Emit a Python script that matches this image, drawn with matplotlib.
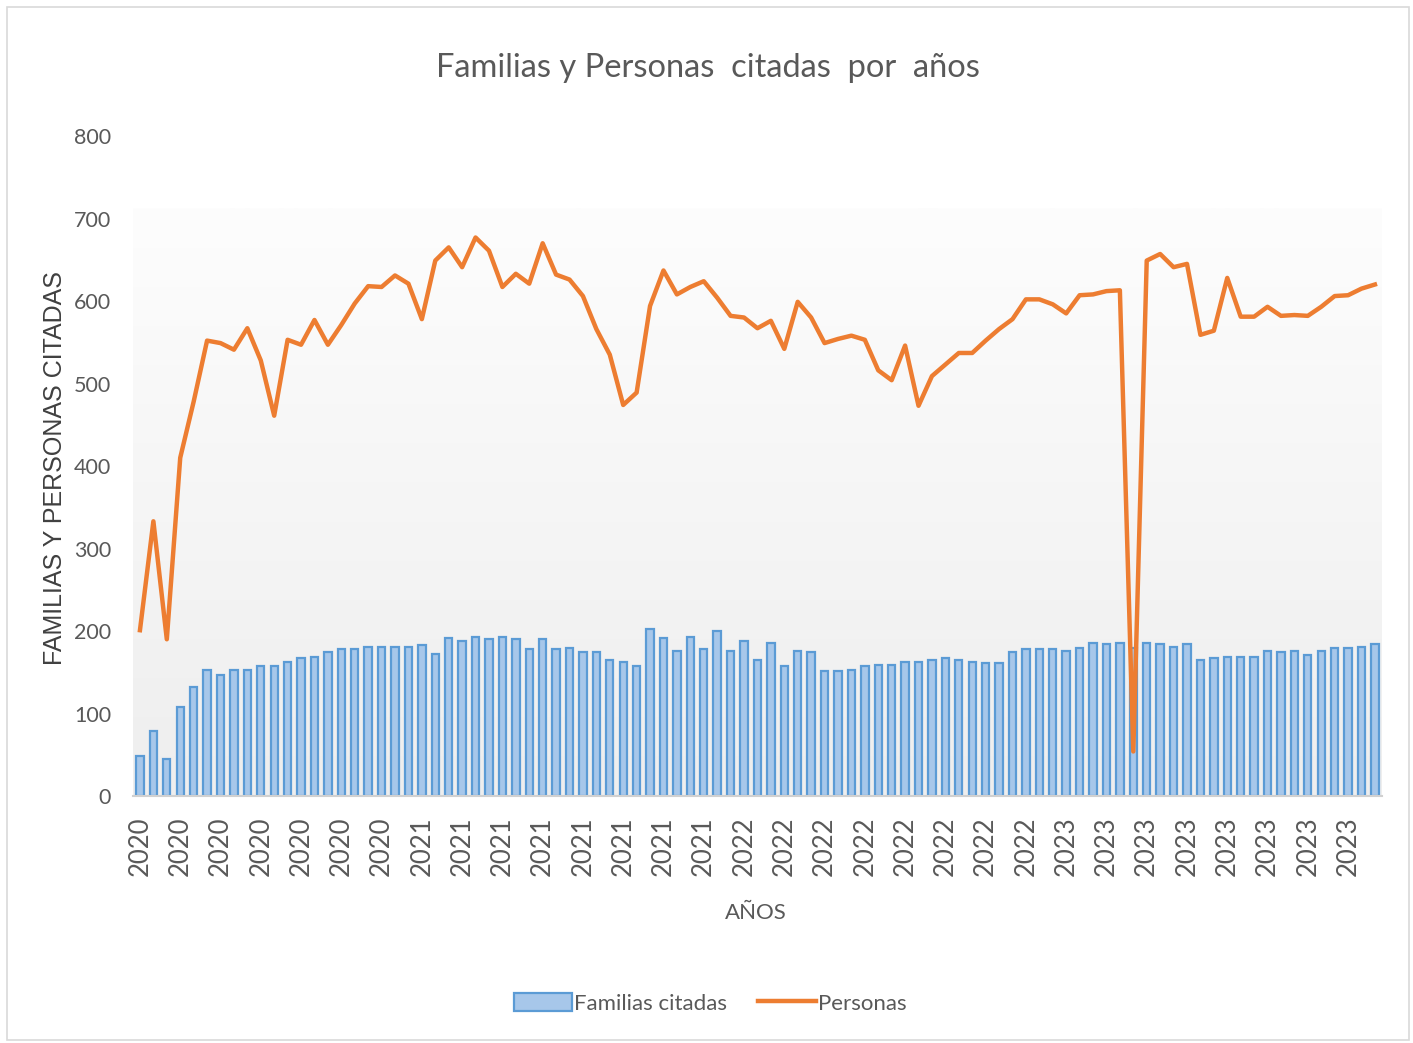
import matplotlib
matplotlib.use("Agg")
import matplotlib.pyplot as plt
import numpy as np
from matplotlib.colors import LinearSegmentedColormap
from matplotlib.patches import Rectangle

# ---- data ----
familias = [49, 79, 45, 108, 132, 153, 147, 153, 153, 157, 157, 163, 167, 169, 174, 178, 178, 181, 181, 181, 181, 183, 172, 192,
            188, 193, 190, 193, 190, 178, 190, 178, 179, 174, 174, 165, 163, 157, 202, 192, 176, 193, 178, 200, 176, 188, 165,
            186, 157, 176, 174, 151, 151, 153, 157, 159, 159, 162, 163, 165, 167, 165, 163, 161, 161, 174, 178, 178, 178, 176, 180,
            186, 184, 186, 180, 186, 184, 181, 184, 165, 167, 169, 169, 169, 176, 174, 176, 171, 176, 180, 180, 181, 184]
personas = [201, 333, 190, 410, 478, 552, 549, 541, 567, 528, 461, 553, 547, 577, 547, 571, 597, 618, 617, 631, 621, 578, 649, 665,
            641, 677, 661, 617, 633, 621, 670, 632, 626, 606, 566, 535, 474, 489, 594, 637, 608, 617, 624, 604, 582, 580, 567,
            576, 542, 599, 580, 549, 554, 558, 553, 516, 504, 546, 473, 509, 523, 537, 537, 552, 566, 578, 602, 602, 596, 585, 607,
            608, 612, 613, 54, 649, 657, 641, 645, 559, 564, 628, 581, 581, 593, 582, 583, 582, 593, 606, 607, 615, 620]
tick_years = ["2020"] * 7 + ["2021"] * 8 + ["2022"] * 8 + ["2023"] * 8
tick_step = 3
y_ticks = [0, 100, 200, 300, 400, 500, 600, 700, 800]

title = "Familias y Personas  citadas  por  años"
xlabel = "AÑOS"
ylabel = "FAMILIAS Y PERSONAS CITADAS"
label_bar = "Familias citadas"
label_line = "Personas"

TXT = "#595959"
BAR_FACE = "#a7c7ea"
BAR_EDGE = "#5b9bd5"
LINE_C = "#ed7d31"

plt.rcParams['font.family'] = ['Lato', 'DejaVu Sans']

fig = plt.figure(figsize=(14.13, 10.43), dpi=100)
fig.patch.set_facecolor("white")
fig.patches.append(Rectangle((0.005, 0.003), 0.992, 0.99, transform=fig.transFigure,
                             fill=False, edgecolor="#d9d9d9", linewidth=1.2))

ax = fig.add_axes([0.0943, 0.2368, 0.8835, 0.6328])
n = len(familias)
x = np.arange(n)

# gradient plot background
cmap = LinearSegmentedColormap.from_list("bg", ["#eeeeee", "#fdfdfd"])
grad = np.linspace(0, 1, 256).reshape(-1, 1)
ax.imshow(grad, extent=[0, 1, 0, 0.89], transform=ax.transAxes, aspect='auto',
          cmap=cmap, origin='lower', zorder=0)

bars = ax.bar(x, familias, width=0.55, color=BAR_FACE, edgecolor=BAR_EDGE, linewidth=1.6,
              label=label_bar, zorder=2)
line, = ax.plot(x, personas, color=LINE_C, linewidth=3.2, label=label_line, zorder=3,
                solid_joinstyle='round')

ax.set_xlim(-0.5, n - 0.5)
ax.set_ylim(0, 800)
ax.set_yticks(y_ticks)
ax.set_yticklabels([str(v) for v in y_ticks])
ticks = np.arange(0, n, tick_step)[:len(tick_years)]
ax.set_xticks(ticks)
ax.set_xticklabels(tick_years, rotation=90)

for s in ["top", "right", "left"]:
    ax.spines[s].set_visible(False)
ax.spines["bottom"].set_color("#d0d0d0")
ax.spines["bottom"].set_linewidth(1.5)
ax.tick_params(axis='y', length=0, pad=16, labelsize=15.5, labelcolor=TXT)
ax.tick_params(axis='x', length=0, pad=15, labelsize=18.5, labelcolor=TXT)

fig.text(0.501, 0.935, title, ha='center', va='center', fontsize=23.5, color=TXT)
fig.text(0.039, 0.551, ylabel, rotation=90, ha='center', va='center', fontsize=18,
         color="#404040", family=['Liberation Sans', 'DejaVu Sans'])
fig.text(0.535, 0.125, xlabel, ha='center', va='center', fontsize=16, color=TXT)

leg = fig.legend([bars, line], [label_bar, label_line], loc='center',
                 bbox_to_anchor=(0.503, 0.038), ncol=2, frameon=False,
                 fontsize=16, handlelength=2.6, handleheight=0.9, columnspacing=1.4,
                 handletextpad=0.1, labelcolor=TXT)

fig.savefig("out.png", dpi=100, facecolor="white")
